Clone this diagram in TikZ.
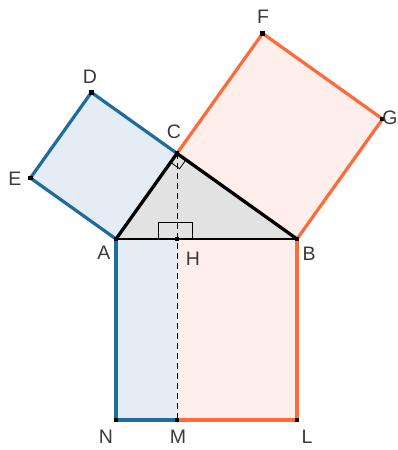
\documentclass[tikz,border=0pt]{standalone}
\usepackage{fontspec}
\setmainfont{Liberation Sans}
\usetikzlibrary{calc}
\definecolor{bline}{HTML}{1F6B9C}
\definecolor{bfill}{HTML}{E4EDF6}
\definecolor{oline}{HTML}{FF6A3D}
\definecolor{ofill}{HTML}{FFEEE9}
\definecolor{tfill}{HTML}{E2E2E2}
\definecolor{lbl}{HTML}{3A3A3A}
\begin{document}
\begin{tikzpicture}[x=1pt,y=-1pt,
  blueedge/.style={draw=bline,line width=3.2pt,line join=round,line cap=round},
  orangeedge/.style={draw=oline,line width=3.2pt,line join=round,line cap=round},
  triedge/.style={draw=black,line width=3.3pt,line cap=round},
  ptmark/.style={fill=black,minimum size=4.5pt,inner sep=0pt,outer sep=0pt,rectangle},
  ptlabel/.style={text=lbl,font=\fontsize{19.5}{19.5}\selectfont,inner sep=0pt}]
\useasboundingbox[fill=white] (0,0) rectangle (398,450);
% points
\coordinate (A) at (116,239);
\coordinate (B) at (297,239);
\coordinate (H) at (177,239);
\coordinate (C) at (177,153.4);
\coordinate (E) at (30.4,178);
\coordinate (D) at (91.4,92.4);
\coordinate (F) at (262.6,33.4);
\coordinate (G) at (382.6,119);
\coordinate (N) at (116,420);
\coordinate (M) at (177,420);
\coordinate (L) at (297,420);
% fills
\fill[bfill] (A) -- (C) -- (D) -- (E) -- cycle;
\fill[ofill] (C) -- (B) -- (G) -- (F) -- cycle;
\fill[bfill] (A) -- (H) -- (M) -- (N) -- cycle;
\fill[ofill] (H) -- (B) -- (L) -- (M) -- cycle;
\fill[tfill] (A) -- (B) -- (C) -- cycle;
% coloured edges
\draw[blueedge] (A) -- (E) -- (D) -- (C);
\draw[orangeedge] (C) -- (F) -- (G) -- (B);
\draw[blueedge] (A) -- (N) -- (M);
\draw[orangeedge] (M) -- (L) -- (B);
% altitude
\draw[black,line width=1pt,dash pattern=on 6pt off 4pt] (C) -- (M);
% right angle marks
\draw[black,line width=1pt] (158,239) -- (158,222) -- (192,222) -- (192,239);
\draw[black,line width=0.8pt] ($(C)!11pt!(A)$) -- ($($(C)!11pt!(A)$)+($(C)!11pt!(B)$)-(C)$) -- ($(C)!11pt!(B)$);
% triangle edges
\draw[black,line width=2pt] (A) -- (B);
\draw[triedge] (A) -- (C) -- (B);
% point markers
\foreach \p in {A,B,C,D,E,F,G,H,N,M,L}
  \node[ptmark] (m\p) at (\p) {};
% labels
\node[ptlabel] (lD) at (90,77) {D};
\node[ptlabel] (lE) at (15,179) {E};
\node[ptlabel] (lF) at (263,17) {F};
\node[ptlabel] (lG) at (390,118) {G};
\node[ptlabel] (lC) at (174,132) {C};
\node[ptlabel] (lA) at (104,253) {A};
\node[ptlabel] (lH) at (193,259) {H};
\node[ptlabel] (lB) at (309,254) {B};
\node[ptlabel] (lN) at (106,437) {N};
\node[ptlabel] (lM) at (178,437) {M};
\node[ptlabel] (lL) at (307,437) {L};
\end{tikzpicture}
\end{document}
